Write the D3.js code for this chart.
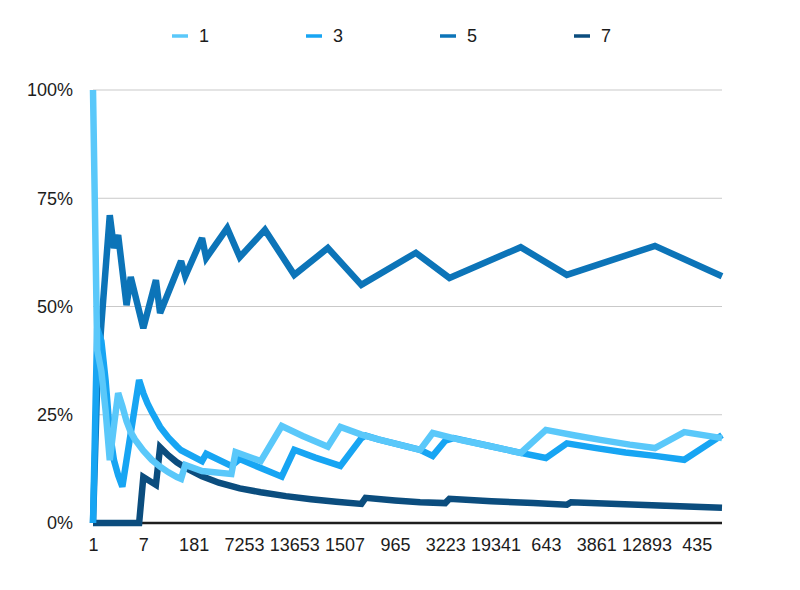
<!DOCTYPE html>
<html lang="en" dir="ltr">
  <head>
    <script src="https://d3js.org/d3.v7.min.js"></script>
    <meta charset="utf-8">
    <title></title>
    <style>
      body { margin: 0; background: #fff; }
      text { font-family: "Helvetica Neue", Helvetica, "Liberation Sans", Arial, sans-serif; fill: #1c1c1c; }
    </style>
  </head>
  <body>
    <svg id="chart"></svg>
    <script type="text/javascript">

    // x categories: 151 of them, only every 12th one is labelled
    var categoryCount = 151;
    var tickLabels = ["1","7","181","7253","13653","1507","965","3223","19341","643","3861","12893","435"];
    var yTicks = [0, 25, 50, 75, 100];
    var seriesNames = ["1","3","5","7"];

    // series values (percent) at these category indexes
    var s1Cat = [0,1,2,3,4,5,6,7,8,9,10,12,14,16,18,20,21,22,26,33,34,40,45,50,56,59,64,68,78,81,88,94,102,108,115,121,128,134,141,150];
    var s1Val = [100,40,35,26,14.5,22.5,30,27,23.5,21,19.3,16.7,14.6,13.0,11.7,10.6,10.2,13.4,12.0,11.3,16.4,14.3,22.4,20.1,17.6,22.2,20.4,19.3,16.9,20.8,19.1,17.9,16.2,21.5,20.2,19.2,18.1,17.3,21.0,19.6];

    var s3Cat = [0,1,2,3,4,5,6,7,11,12,13,14,16,18,20,21,26,27,33,35,40,45,48,53,59,64,65,68,78,81,84,86,94,102,108,113,120,127,134,141,150];
    var s3Val = [0,45,42,33,21,14.5,11,8.4,33,30,27.6,25.7,22.2,19.7,17.7,16.8,14.3,16.0,13.2,14.8,12.7,10.7,16.9,15.1,13.2,19.6,20.2,19.3,16.9,15.5,19.0,19.6,17.9,16.2,15.0,18.4,17.3,16.3,15.5,14.6,20.3];

    var s5Cat = [0,1,2,4,5,6,8,9,12,15,16,21,22,26,27,32,35,41,48,56,64,77,85,102,113,134,150];
    var s5Val = [0,32,46,71.1,63.5,66.5,50.3,56.8,45,56.1,48.5,60.5,57,65.8,61.2,68.1,61.4,67.7,57.3,63.5,55,62.4,56.6,63.7,57.3,64,57];

    var s7Cat = [0,11,12,15,16,18,20,22,26,30,35,40,46,52,58,64,65,72,78,84,85,95,105,113,114,130,150];
    var s7Val = [0,0,10.6,8.8,17.5,15.6,14.0,12.8,10.8,9.3,8.0,7.1,6.2,5.5,4.9,4.4,5.8,5.2,4.8,4.6,5.6,5.0,4.6,4.2,4.8,4.2,3.5];

    var colors = ["#5ac8fa","#17a5f3","#0c74b8","#0b4d7e"];

    var drawChart = function(tag)
    {
      var width = 800;
      var height = 590;
      var left = 93, right = 722, top = 90, bottom = 523;

      var svg = d3.select(tag)
        .attr("width", width)
        .attr("height", height);

      var x = d3.scaleLinear()
        .domain([0, categoryCount - 1])
        .range([left, right]);

      var y = d3.scaleLinear()
        .domain([0, 100])
        .range([bottom, top]);

      // gridlines
      svg.append("g")
        .selectAll("line")
        .data(yTicks.filter(function(d){ return d > 0; }))
        .enter()
        .append("line")
        .attr("x1", left)
        .attr("x2", right)
        .attr("y1", function(d){ return y(d); })
        .attr("y2", function(d){ return y(d); })
        .attr("stroke", "#c9c9c9")
        .attr("stroke-width", 1);

      // y labels
      var yAxis = d3.axisLeft(y)
        .tickValues(yTicks)
        .tickSize(0)
        .tickPadding(20)
        .tickFormat(function(d){ return d + "%"; });
      var yg = svg.append("g")
        .attr("transform", "translate(" + left + ",0)")
        .call(yAxis);
      yg.select(".domain").remove();
      yg.selectAll("text")
        .attr("font-size", 18)
        .attr("font-family", null)
        .attr("fill", "#1c1c1c");

      // x labels
      var xAxis = d3.axisBottom(x)
        .tickValues(tickLabels.map(function(d, i){ return i * 12; }))
        .tickSize(0)
        .tickPadding(15)
        .tickFormat(function(d, i){ return tickLabels[i]; });
      var xg = svg.append("g")
        .attr("transform", "translate(0," + bottom + ")")
        .call(xAxis);
      xg.select(".domain").remove();
      xg.selectAll("text")
        .attr("font-size", 18)
        .attr("font-family", null)
        .attr("fill", "#1c1c1c");

      // baseline
      svg.append("line")
        .attr("x1", left)
        .attr("x2", right)
        .attr("y1", y(0))
        .attr("y2", y(0))
        .attr("stroke", "#1e1e1e")
        .attr("stroke-width", 2.5);

      var series = [
        {cat: s1Cat, val: s1Val},
        {cat: s3Cat, val: s3Val},
        {cat: s5Cat, val: s5Val},
        {cat: s7Cat, val: s7Val}
      ];

      var line = d3.line()
        .x(function(d){ return x(d[0]); })
        .y(function(d){ return y(d[1]); });

      // first series ends up on top, so draw in reverse
      for (var k = series.length - 1; k >= 0; k--)
      {
        var pts = series[k].cat.map(function(c, i){ return [c, series[k].val[i]]; });
        svg.append("path")
          .datum(pts)
          .attr("d", line)
          .attr("fill", "none")
          .attr("stroke", colors[k])
          .attr("stroke-width", 6.5)
          .attr("stroke-linejoin", "miter")
          .attr("stroke-miterlimit", 3);
      }

      // legend
      var legend = svg.append("g").attr("class", "legend");
      legend.selectAll("g")
        .data(seriesNames)
        .enter()
        .append("g")
        .each(function(d, i)
        {
          var g = d3.select(this);
          g.append("line")
            .attr("x1", 172 + i * 134)
            .attr("x2", 188 + i * 134)
            .attr("y1", 36)
            .attr("y2", 36)
            .attr("stroke", colors[i])
            .attr("stroke-width", 3.5);
          g.append("text")
            .attr("x", 199 + i * 134)
            .attr("y", 42)
            .attr("font-size", 18)
            .text(d);
        });
    }

    drawChart("#chart");

    </script>
  </body>
</html>
